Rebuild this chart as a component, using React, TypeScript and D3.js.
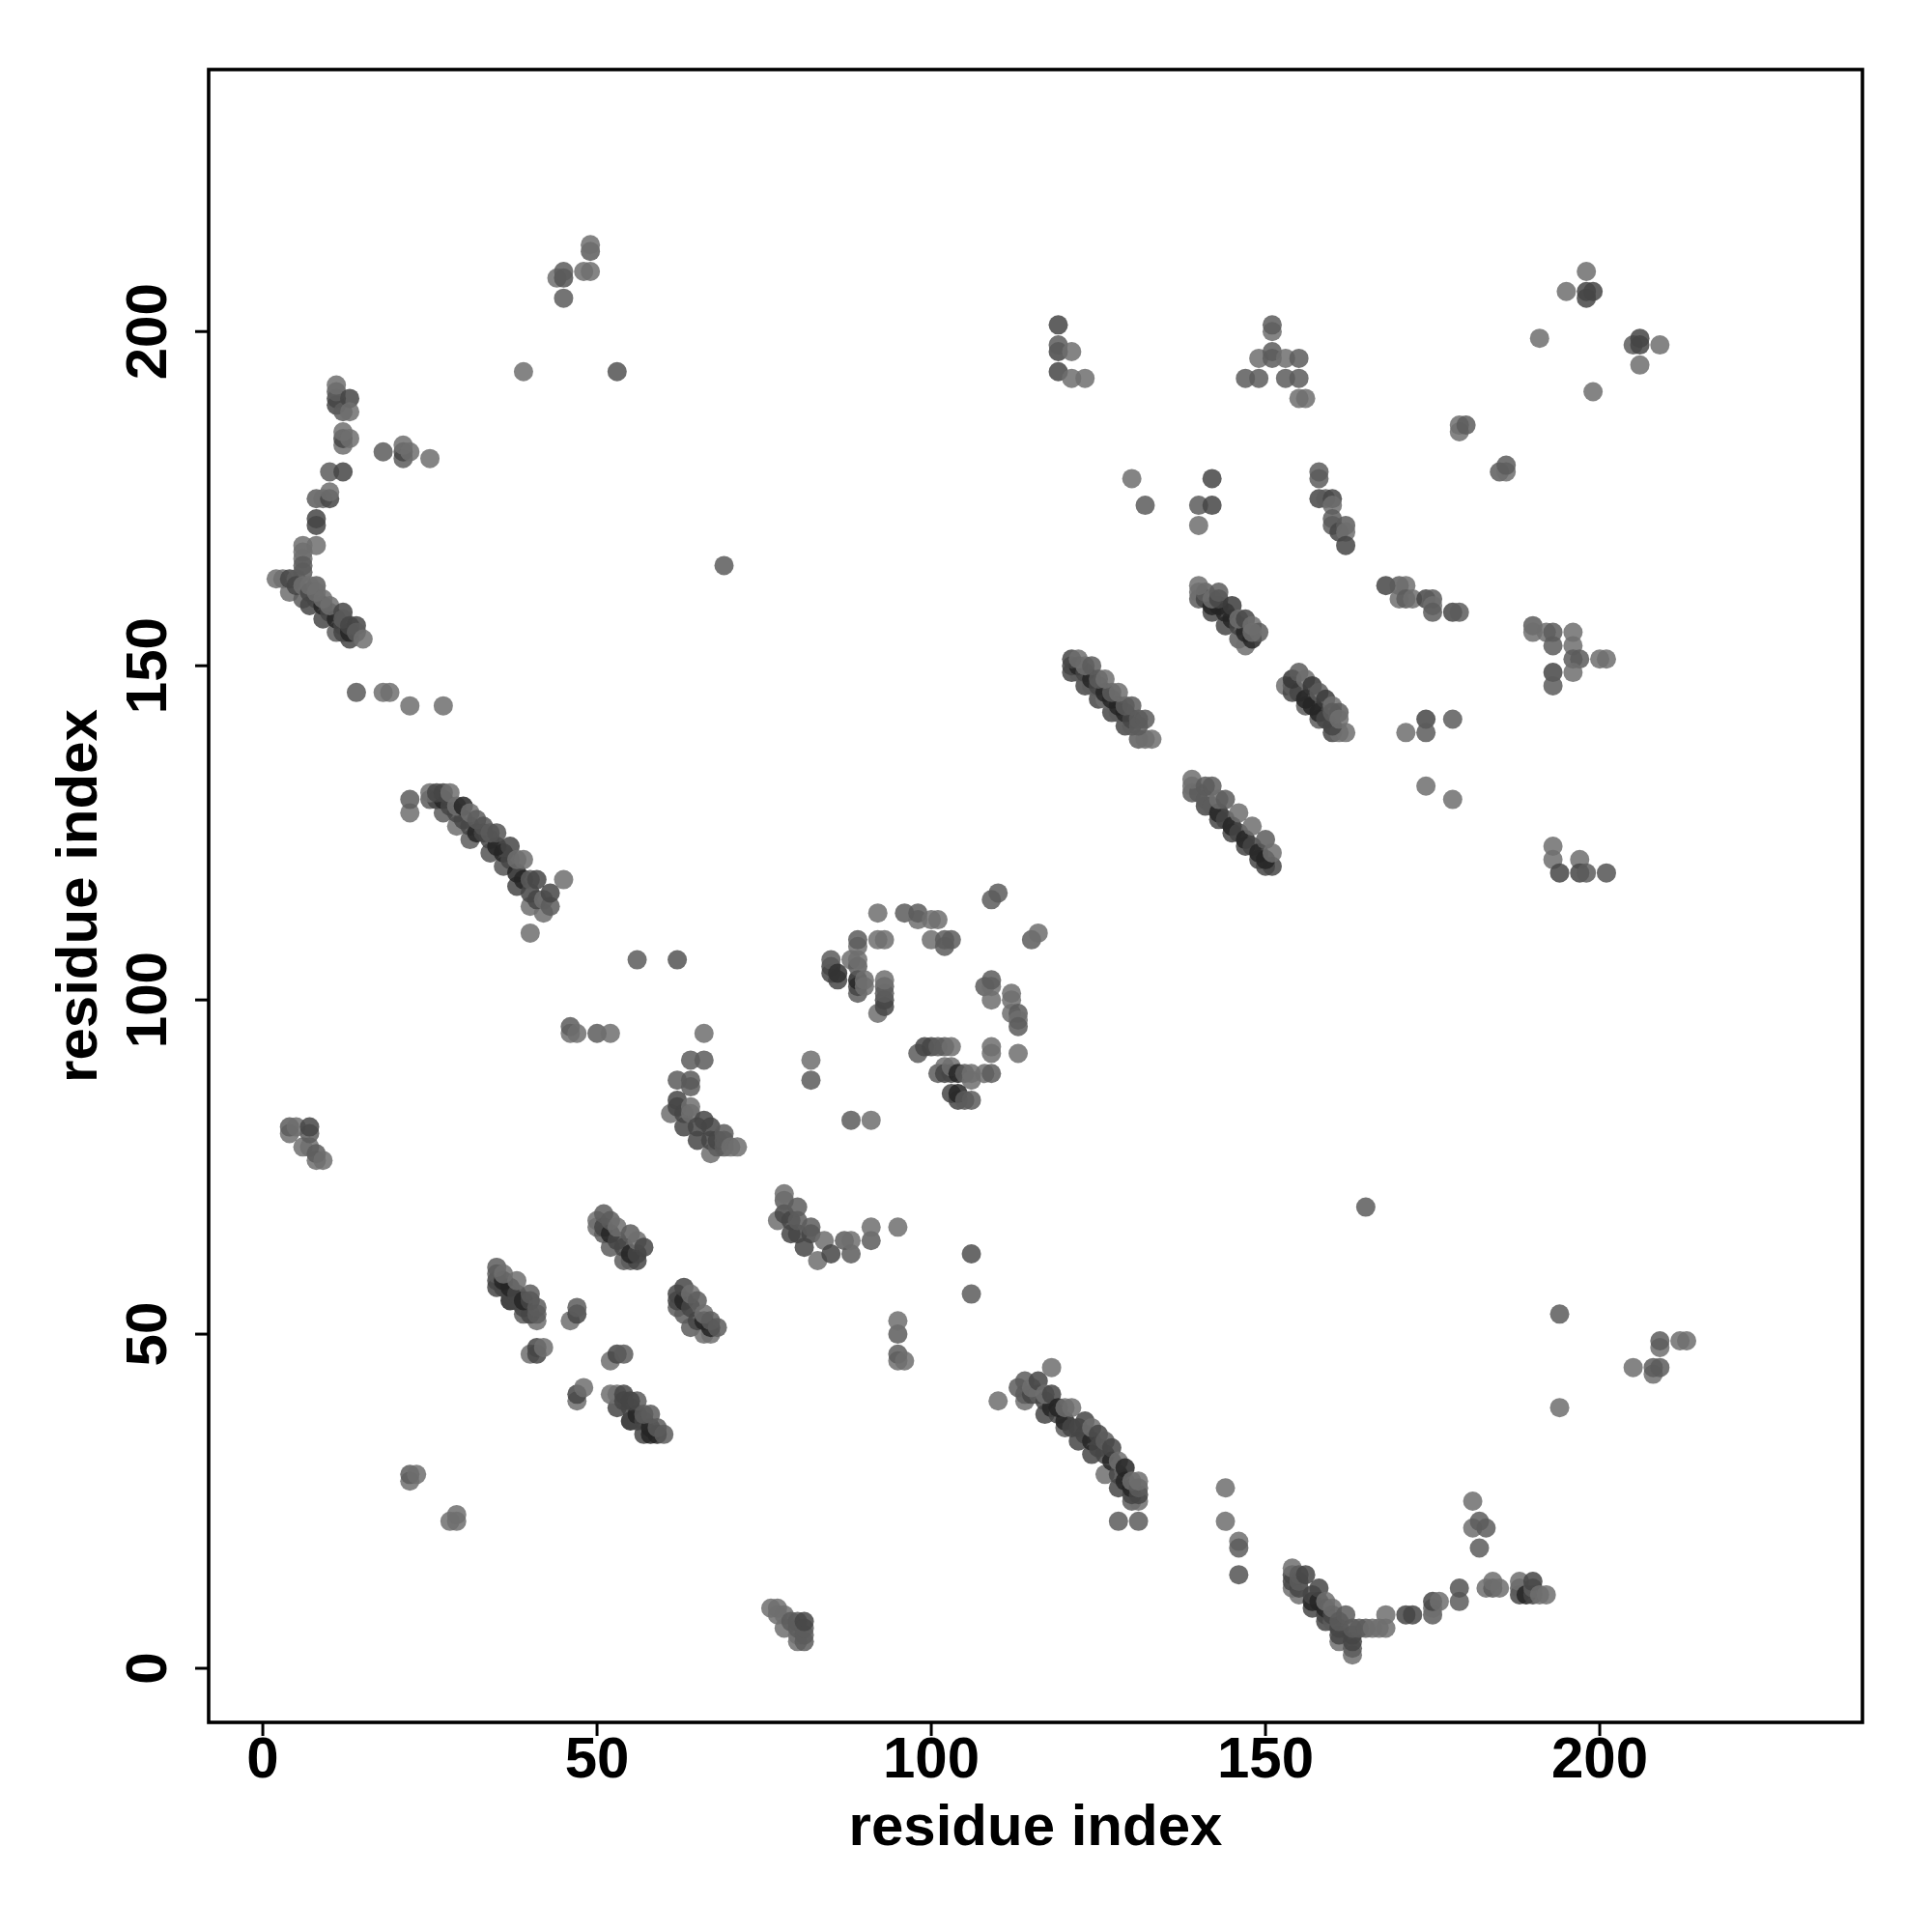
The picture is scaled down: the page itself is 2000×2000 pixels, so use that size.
import React from "react";
import * as d3 from "d3";

type P = [number, number, number];
// each point: residue i, residue j, grey percent of the fill. L light, M mid, D dark, K darkest
const L = 43, M = 36, D = 27, K = 14;

const nTerminalArc: P[] = [
  [11,189,D],[11,190,D],[11,191,M],[11,192,L],[12,188,M],[13,190,D],[13,188,L],
  [12,183,L],[12,184,D],[12,185,L],[13,184,L],
  [18,182,M],[21,181,M],[21,182,D],[21,183,L],[22,182,L],[25,181,L],
  [10,179,M],[12,179,D],[8,175,M],[9,175,L],[10,175,D],[10,176,L],
  [8,171,D],[8,172,D],[6,168,L],[8,168,L],[6,167,L],[6,166,L],[6,165,M],[6,164,M],
];
const helix1: P[] = [
  [4,161,L],[6,160,M],[7,159,D],[9,157,D],[11,155,M],[13,154,D],[12,155,D],
  [2,163,L],[3,163,L],[4,163,D],[5,163,M],[5,162,D],[6,162,L],[7,161,D],[8,160,D],[9,159,K],[10,158,D],[11,157,K],[12,156,D],[13,155,K],
  [8,162,M],[7,162,L],[8,161,L],[9,160,L],[10,159,L],[12,158,D],[12,157,M],[13,156,D],[14,156,D],[14,155,M],[15,154,L],
];
const scattered1: P[] = [
  [14,146,D+8],[18,146,L],[19,146,L],[22,144,L],[27,144,L],[22,128,L],[22,130,M],
  [39,194,L],[53,194,M-4],[69,165,M],[56,106,M],[62,106,D+6],
  [44,208,L],[45,205,M],[45,208,D+6],[45,209,M],[48,209,L],[49,209,L],[49,212,M],[49,213,L],
];
const helix2: P[] = [
  [25,130,M],[27,128,M],[29,126,L],[31,124,M],[34,122,D+6],[36,120,D+6],[38,117,D],[40,114,L],[42,113,L],
  [26,130,D],[27,130,K],[28,129,D],[29,128,D],[30,127,D],[31,126,D],[32,125,K],[33,125,D],[34,124,D],[35,123,K],[36,122,K],[37,121,D],[38,119,K],[39,118,K],[40,116,D],[41,115,D],
  [25,131,L],[26,131,D],[27,131,D],[28,131,L],[29,129,L],[30,129,K],[31,128,L],[32,127,M],[33,126,D+6],[34,125,M],[35,125,D+6],[37,123,D],[38,121,L],[39,121,L],
  [40,118,M],[41,118,D],[42,115,L],[43,114,M],[43,116,D],[45,118,L],[40,110,L],
];
const smallCluster: P[] = [
  [4,80,L],[4,81,M],[5,81,L],[6,78,L],[7,78,L],[7,80,M],[7,81,D],[8,76,L],[8,77,M],[9,76,L],
  [22,28,L],[22,29,M],[23,29,L],[28,22,L],[29,22,L],[29,23,L],
  [46,95,L],[46,96,M],[47,95,L],[50,95,M],[52,95,L],
];
const helix3: P[] = [
  [35,57,D],[37,55,K],[39,53,M],[41,52,L],[35,58,D],[36,57,D],[37,56,D],[38,55,D],[39,54,D],[40,53,D],[41,53,M],
  [35,59,M],[36,58,K],[37,57,K],[38,56,D],[39,55,K],[40,55,D],[35,60,M],[36,59,L],[38,58,L],[40,56,M],[41,54,M],
  [46,52,L],[47,53,D],[47,54,M],
  [40,47,L],[41,47,D],[41,48,D],[42,48,L],
  [47,40,L],[47,41,D],[48,42,L],
  [52,46,L],[53,47,D],[54,47,M],
];
const helix4: P[] = [
  [50,66,L],[51,65,M],[52,63,M],[54,61,M],[55,61,M],[56,61,D],
  [50,67,L],[51,66,D],[52,65,K],[53,64,D],[54,63,D],[55,62,K],[56,62,D],
  [51,68,M],[52,67,M],[53,66,L],[55,65,M],[56,64,L],[57,63,D],
];
const helix5: P[] = [
  [53,39,D],[55,37,K],[56,37,D],[57,35,D],[58,35,K],[59,35,K],
  [52,41,L],[53,41,L],[54,41,D],[54,40,D],[55,39,D],[56,38,K],[57,37,D],[58,36,K],[59,36,M],
  [56,40,M],[55,40,D],[57,38,M],[58,38,M],[60,35,M],
];
const helix6: P[] = [
  [62,54,M],[63,53,M],[64,51,M],[66,50,L],[67,50,L],
  [62,55,D],[62,56,D],[63,55,K],[64,54,D],[65,52,D],[66,52,K],[67,51,K],
  [63,57,D],[64,56,L],[65,55,M],[66,53,L],[67,52,M],[68,51,M],
];
const cluster70: P[] = [
  [66,95,L],[64,91,M],[66,91,M],[62,88,M],[64,87,M],[64,88,D+8],
  [61,83,L],[62,84,D],[62,85,D],[63,81,D],[63,83,D],[64,83,L],[64,84,L],[65,79,D],[65,81,D],[66,82,D],[67,77,L],[67,79,D],[67,81,D],
  [68,78,M],[68,79,D],[69,78,M],[69,79,M],[69,80,M],[70,78,L],[71,78,L],
  [77,67,L],[78,68,D],[78,70,M],[78,71,L],[79,65,D],[79,67,D],[80,65,D],[80,67,M],[80,69,M],[81,63,D],[82,65,D],[82,66,M],[83,61,L],[84,64,L],[85,62,D],
  [87,64,M],[88,62,M],[88,64,L],[91,64,M],[91,66,L],[95,66,L],[106,62,D+4],[106,56,M],
  [95,46,L],[95,47,M],[95,50,M],[95,52,L],[96,46,L],
];
const ringTop: P[] = [
  [92,113,L],[96,113,M],[98,112,L],[98,113,M],[100,112,L],[101,112,L],
  [89,108,L],[89,109,M],[92,109,L],[93,109,L],[100,109,L],[102,108,M],[102,109,M],[103,109,M],
  [85,104,D],[85,105,D],[85,106,M],[86,103,D],[86,104,D-8],[88,106,L],[89,101,M],[89,102,D],[89,103,K],[89,105,M],[89,106,L],[90,102,L],[90,103,L],
  [92,98,L],[93,99,D],[93,100,D],[93,101,M],[93,102,M],[93,103,L],
  [109,115,M],[110,116,M],[115,109,M],[116,110,L],
  [108,102,M],[109,100,L],[109,102,L],[109,103,M],[112,98,L],[112,100,L],[112,101,L],[113,98,M],[113,97,L],[113,96,M],
];
const ringBottom: P[] = [
  [98,92,M],[99,93,D],[100,93,D],[101,93,M],[102,93,M],[103,93,L],[109,92,L],[109,93,L],[113,92,L],
  [82,88,M],[82,91,L],[88,82,M],[91,82,L],
  [101,89,M],[102,90,L],[102,89,D],[103,89,D],[103,90,L],[104,89,K],[105,89,M],[106,88,L],[106,89,L],[108,89,L],[109,89,M],
  [103,86,D],[104,85,D],[104,86,K],[105,85,M],[106,85,M],
];
const helix7: P[] = [
  [114,40,L],[117,38,D],[120,36,M],[122,34,D],[124,32,D],[126,29,L],[128,27,D],[130,25,M],[131,25,L],
  [113,42,M],[114,41,M],[115,41,D],[116,41,M],[117,40,D],[118,39,K],[119,38,D],[120,37,K],[121,36,D],[122,36,D],[123,35,D],[124,34,K],[125,33,D],[126,32,D],[127,31,K],[128,29,D],[129,28,K],[130,26,D],[130,27,K],[131,26,D],
  [114,43,M],[115,42,L],[116,43,D],[117,41,L],[118,41,D],[119,39,K],[120,39,L],[121,39,L],[123,37,D],[124,36,L],[125,35,D],[126,34,M],[127,33,D],[128,31,L],[129,30,K],[130,28,L],[131,27,M],[131,28,L],
  [118,45,L],[110,40,L],[128,22,M],[131,22,M],
];
const helix8: P[] = [
  [121,149,D],[123,147,D],[125,145,D],[127,143,D],[129,141,D],[131,139,M],[132,139,L],[133,139,L],
  [122,149,M],[124,147,M],[126,145,L],[128,143,M],[130,141,M],
  [121,150,D],[122,150,K],[123,149,D],[124,148,K],[125,147,D],[126,146,K],[127,145,K],[128,144,K],[129,143,K],[130,142,D],[131,141,M],
  [123,150,L],[125,148,M],[127,146,M],[129,144,M],[131,142,M],
  [121,151,D],[122,151,L],[124,150,M],[126,148,L],[128,146,L],[130,144,M],[132,142,M],
];
const helix9: P[] = [
  [140,160,M],[142,158,D],[144,156,D],[146,154,M],[147,153,L],[148,154,K],
  [140,161,L],[141,160,D],[142,159,K],[143,159,K],[144,158,K],[145,157,K],[146,156,D],[147,155,K],
  [141,161,M],[142,160,L],[143,160,D],[143,161,M],[145,159,D-4],[146,157,L],[147,157,D],[148,156,L],[149,155,M],
  [140,162,L],[148,155,L],
];
const helix10: P[] = [
  [153,147,L],[154,146,D],[156,144,M],[158,142,M],[160,140,D],[161,140,L],[162,140,L],
  [154,147,M],[155,146,D],[156,145,K],[157,144,K],[158,143,K],[159,142,D],[160,141,D],
  [154,148,D-6],[155,149,M],[156,148,L],[157,147,D-6],[158,146,M],[159,145,D-4],[160,144,L],[160,143,M],[161,143,M],[161,142,L],
];
const helix11: P[] = [
  [139,131,M],[141,129,D],[143,127,D],[145,125,D],[147,123,D],[149,121,D],[150,120,D],[151,120,D],
  [139,132,L],[140,131,M],[141,130,M],[142,129,M],[143,128,K],[144,127,D],[145,126,K],[146,125,D],[147,124,K],[148,123,D],[149,122,K],[150,121,K],
  [139,133,L],[141,132,M],[142,132,M],[143,130,L],[144,130,M],[146,128,L],[148,126,L],[150,124,M],[151,122,L],
];
const cTerminalArc: P[] = [
  [154,12,L],[154,13,D],[154,14,D],[154,15,L],[155,11,L],[155,12,D],[155,13,M],[155,14,M],[156,14,D],
  [157,9,D],[157,10,K],[157,11,D],[158,10,K],[158,12,D],[159,7,D],[159,8,D],[159,9,K],[159,10,L],[160,7,M],[160,8,D],[160,9,L],
  [161,4,L],[161,5,D],[161,6,D],[161,7,M],[162,8,M],[163,2,L],[163,3,M],[163,4,D],[163,5,D],[163,6,M],[164,6,M],[165,6,M],
  [166,6,L],[167,6,L],[168,6,L],[168,8,L],[171,8,D],[172,8,D],[175,8,M],[175,9,L],[175,10,D],[176,10,L],[179,10,M],[179,12,D+6],
  [181,21,L],[181,25,L],[182,18,M],[182,22,M],[183,21,M],
  [183,12,L],[184,12,M],[184,13,L],[185,12,L],[188,11,D],[188,12,M],[188,13,L],[189,11,K],[190,11,D],[190,12,M],[190,13,D],[191,11,L],[192,11,L],
  [76,9,L],[77,8,L],[77,9,L],[78,6,L],[78,8,L],[79,7,M],[80,4,L],[80,5,L],[80,6,M],[80,7,M],[81,4,M],[81,5,M],[81,6,M],[81,7,D],
  [144,27,L],[144,22,L],[146,19,L],[146,18,M],[146,14,D+6],
];
const upperRight: P[] = [
  [119,194,D],[119,197,D],[119,198,M],[119,201,D],[121,193,L],[121,197,L],[123,193,L],
  [147,193,M],[149,193,M],[149,196,L],[151,196,M],[151,197,M],[151,200,L],[151,201,M],[153,193,M],[153,196,L],[155,190,L],[155,193,M],[155,196,M],[156,190,L],
  [191,199,L],[195,206,L],[198,205,D],[198,206,D],[198,209,L],[199,206,D],[199,191,L],
  [205,198,M],[206,195,L],[206,198,D],[206,199,D],[209,198,L],
  [179,185,L],[179,186,L],[180,186,M],[185,179,M],[186,179,L],[186,180,M],
  [130,178,L],[132,174,M],[140,171,L],[140,174,M],[142,174,D],[142,178,D],
  [158,178,M],[158,179,M],[158,175,D],[159,175,M],[160,175,D],[160,174,L],[160,172,M],[160,171,M],[161,170,D],[162,171,M],[162,170,L],[162,168,D],
  [168,162,D],[170,162,M],[171,162,L],[170,160,L],[171,160,M],[172,160,L],[174,160,D],[175,160,M],[175,159,L],[175,158,M],[178,158,D],[179,158,M],
  [190,156,M],[190,155,L],[192,155,L],[193,155,M],[196,155,L],[193,153,M],[196,153,L],[196,151,M],[197,151,M],[196,149,L],[193,149,D],[193,147,M],[200,151,L],[201,151,L],
  [171,140,L],[174,142,D],[174,140,M],[178,142,M],[174,132,L],[178,130,L],
  [193,123,L],[193,121,L],[194,119,D],[197,121,L],[197,119,D],[198,119,M],[201,119,D+6],
  [165,69,M],[194,53,M],[194,39,L],[205,45,L],[208,44,L],[208,45,M],[209,45,M],[209,48,L],[209,49,M],[212,49,L],[213,49,L],
];

const allPoints: P[] = [
  ...nTerminalArc, ...helix1, ...scattered1, ...helix2, ...smallCluster, ...helix3, ...helix4, ...helix5, ...helix6,
  ...cluster70, ...ringTop, ...ringBottom, ...helix7, ...helix8, ...helix9, ...helix10, ...helix11, ...cTerminalArc, ...upperRight,
];

const tickValues = [0, 50, 100, 150, 200];
const axisLabel = "residue index";
const left = 216, right = 1928, top = 72, bottom = 1783;

export default function App() {
  const x = d3.scaleLinear().domain([-8.1, 239.3]).range([left, right]);
  const y = d3.scaleLinear().domain([-8.09, 239.2]).range([bottom, top]);
  const font = "'Liberation Sans', Arial, sans-serif";
  return (
    <svg width={2000} height={2000} style={{ position: "absolute", left: 0, top: 0, background: "#fff" }} fontFamily={font} fontWeight="bold">
      {allPoints.map(([i, j, g], k) => (
        <circle key={k} cx={x(i)} cy={y(j)} r={10} fill={d3.rgb(g * 2.55, g * 2.55, g * 2.55).formatRgb()} fillOpacity={0.85} />
      ))}
      <rect x={left} y={top} width={right - left} height={bottom - top} fill="none" stroke="#000" strokeWidth={3.6} />
      {tickValues.map((t) => (
        <g key={t}>
          <line x1={x(t)} x2={x(t)} y1={bottom} y2={bottom + 14} stroke="#000" strokeWidth={3} />
          <text x={x(t)} y={1840} fontSize={60} textAnchor="middle">{t}</text>
          <line x1={left} x2={left - 14} y1={y(t)} y2={y(t)} stroke="#000" strokeWidth={3} />
          <text transform={`translate(172,${y(t)}) rotate(-90)`} fontSize={60} textAnchor="middle">{t}</text>
        </g>
      ))}
      <text x={(left + right) / 2} y={1910} fontSize={60} textAnchor="middle">{axisLabel}</text>
      <text transform={`translate(100,${(top + bottom) / 2}) rotate(-90)`} fontSize={60} textAnchor="middle">{axisLabel}</text>
    </svg>
  );
}
